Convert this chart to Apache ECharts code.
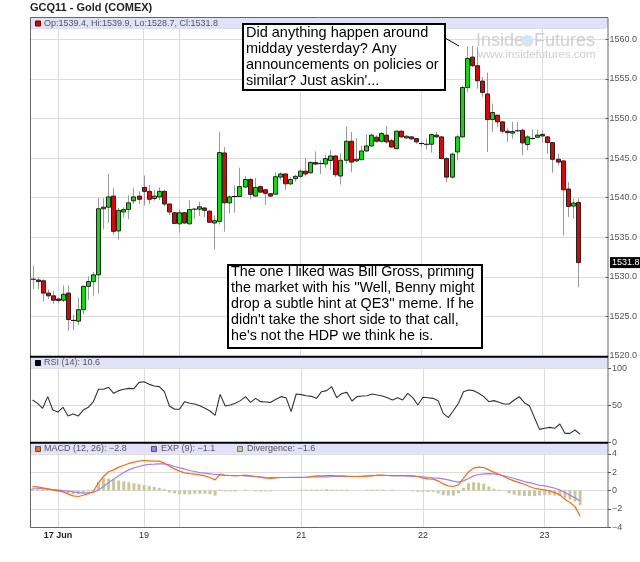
<!DOCTYPE html>
<html>
<head>
<meta charset="UTF-8">
<title>GCQ11 - Gold (COMEX)</title>
<script src="https://cdn.jsdelivr.net/npm/echarts@6/dist/echarts.min.js"></script>
<style>
  html, body { margin: 0; padding: 0; background: #fff; }
  #main { width: 640px; height: 562px; }
</style>
</head>
<body>
<div id="main"></div>
<script type="text/javascript">
// hourly bars
var opens = [1529.7,1529.6,1529.5,1527.95,1527.6,1527.2,1527.05,1527.95,1524.5,1524.4,
  1525.85,1528.8,1529.4,1530.25,1538.6,1538.8,1540.2,1535.8,1538.2,1538.5,
  1539.6,1540.2,1541.3,1540.8,1539.9,1540.1,1540.8,1539.2,1538.1,1536.7,
  1538.1,1536.7,1538.5,1538.55,1538.7,1538.3,1536.8,1537.0,1545.65,1539.35,
  1540.1,1540.15,1541.35,1542.3,1540.2,1541.4,1541.0,1540.5,1540.45,1542.6,
  1543.0,1541.75,1542.4,1542.7,1543.35,1543.15,1544.45,1544.3,1544.26,1544.7,
  1545.27,1542.74,1544.73,1547.13,1544.64,1544.8,1545.9,1546.54,1547.64,1547.13,
  1547.9,1547.2,1546.2,1548.4,1547.55,1547.68,1547.47,1546.84,1546.75,1546.75,
  1547.9,1547.68,1544.94,1542.6,1545.78,1547.68,1553.92,1557.76,1556.67,1554.73,
  1553.1,1549.87,1550.42,1549.58,1548.4,1548.23,1548.45,1548.52,1546.71,1547.47,
  1547.64,1548.0,1547.68,1546.96,1544.85,1544.64,1541.1,1538.94,1539.4];
var closes = [1529.7,1529.4,1527.95,1527.6,1527.05,1527.0,1527.8,1524.6,1524.5,1525.85,
  1528.8,1529.4,1530.25,1538.6,1538.8,1540.1,1535.75,1538.4,1538.5,1539.35,
  1540.1,1539.8,1540.8,1539.8,1540.2,1540.8,1539.2,1538.2,1536.75,1538.1,
  1536.8,1538.5,1538.55,1538.85,1538.4,1536.9,1537.1,1545.7,1539.35,1540.1,
  1540.15,1541.4,1542.3,1540.4,1541.3,1540.7,1540.55,1540.2,1542.65,1543.0,
  1541.75,1542.3,1542.7,1543.35,1543.0,1544.45,1544.25,1544.3,1544.94,1545.27,
  1542.9,1544.73,1547.13,1544.5,1544.85,1545.9,1546.54,1547.9,1547.13,1548.1,
  1547.05,1546.4,1548.4,1547.68,1547.76,1547.43,1547.05,1546.8,1546.7,1547.97,
  1547.68,1544.94,1542.6,1545.5,1547.68,1553.92,1557.6,1556.67,1554.77,1553.3,
  1549.87,1550.76,1549.58,1548.4,1548.23,1548.35,1548.44,1546.92,1547.68,1547.47,
  1547.9,1547.8,1546.96,1544.85,1544.5,1541.0,1538.9,1539.32,1531.8];
var lows = [1528.45,1528.45,1526.9,1527.2,1526.6,1526.7,1526.8,1523.2,1523.3,1523.9,
  1525.3,1527.1,1527.65,1527.9,1536.0,1536.8,1535.3,1534.7,1537.5,1537.3,
  1539.2,1539.2,1539.0,1539.2,1539.6,1539.7,1538.9,1537.8,1536.7,1535.6,
  1536.7,1536.6,1537.3,1537.7,1537.5,1536.8,1533.5,1536.6,1535.7,1538.0,
  1538.1,1540.1,1541.25,1539.8,1540.15,1540.6,1539.1,1540.05,1540.35,1542.2,
  1541.0,1541.55,1542.05,1542.5,1542.7,1543.0,1544.1,1543.0,1543.76,1543.5,
  1542.6,1541.65,1544.3,1543.25,1544.5,1544.75,1545.8,1546.4,1546.96,1546.96,
  1546.84,1546.3,1546.1,1547.6,1547.47,1547.26,1546.84,1546.4,1546.1,1545.7,
  1547.55,1544.85,1541.98,1542.4,1544.7,1547.55,1553.3,1556.5,1553.8,1552.74,
  1545.78,1548.3,1548.95,1548.1,1547.05,1547.47,1548.3,1545.36,1545.99,1547.38,
  1547.55,1546.96,1545.57,1543.16,1544.1,1535.23,1537.55,1537.34,1528.7];
var highs = [1531.4,1529.95,1529.7,1528.4,1528.2,1527.4,1528.9,1528.9,1525.2,1527.4,
  1528.9,1530.05,1530.6,1539.95,1539.95,1543.0,1541.2,1538.7,1538.8,1540.3,
  1541.2,1540.8,1542.8,1541.6,1541.0,1541.3,1541.0,1539.3,1538.2,1538.5,
  1538.2,1539.65,1538.7,1539.5,1538.8,1538.4,1537.75,1548.3,1546.4,1540.3,
  1541.55,1543.8,1542.7,1542.5,1542.5,1541.55,1541.1,1540.6,1543.2,1543.2,
  1543.1,1542.6,1542.9,1543.65,1545.0,1544.6,1545.85,1544.7,1545.44,1546.0,
  1545.35,1545.57,1548.95,1548.3,1547.5,1546.6,1548.0,1548.1,1547.9,1548.3,
  1549.07,1547.47,1548.5,1548.5,1547.9,1547.8,1547.55,1547.1,1547.47,1548.1,
  1548.3,1547.76,1545.15,1545.7,1547.9,1554.1,1559.07,1559.2,1559.07,1555.27,
  1555.8,1551.9,1550.5,1549.66,1548.73,1549.58,1549.58,1548.73,1547.9,1548.6,
  1548.6,1548.5,1547.8,1547.05,1545.53,1544.73,1541.98,1539.87,1539.9];

var rsi = [57.2,52.6,45.9,61.7,43.6,40.9,47.3,35.5,38.2,35.5,
  43.6,47.3,54.9,71.6,71.6,74.3,66.2,69.8,71.6,72.9,
  72.5,81.0,81.9,78.3,76.1,75.2,68.4,49.1,44.6,44.6,
  54.9,52.7,51.8,49.5,45.9,42.3,36.4,64.8,49.1,50.4,
  52.7,56.3,61.7,54.0,59.4,54.9,54.5,54.0,58.1,61.7,
  60.3,41.4,65.3,64.4,63.0,62.1,59.4,68.4,69.8,75.2,
  60.3,66.0,67.5,55.8,61.7,62.6,63.0,65.3,63.9,62.6,
  60.3,57.2,60.3,57.2,66.2,60.3,50.4,60.8,60.3,59.4,
  56.3,39.1,33.3,42.7,52.7,68.4,70.7,69.8,66.2,61.7,
  54.9,56.3,54.0,51.8,51.8,57.2,61.6,53.5,49.5,33.3,
  17.5,18.9,20.2,18.9,24.7,12.1,12.1,16.6,10.6];

var macd = [0.44,0.40,0.29,0.18,0.07,-0.04,-0.15,-0.36,-0.58,-0.65,
  -0.51,-0.33,-0.11,0.87,1.53,2.04,2.25,2.55,2.76,2.95,
  3.09,3.20,3.27,3.24,3.20,3.20,2.98,2.65,2.36,2.11,
  1.93,1.85,1.78,1.71,1.60,1.42,1.16,1.78,1.64,1.64,
  1.60,1.64,1.67,1.60,1.53,1.42,1.35,1.31,1.38,1.42,
  1.42,1.42,1.42,1.42,1.45,1.53,1.60,1.60,1.64,1.64,
  1.60,1.60,1.56,1.53,1.53,1.53,1.56,1.60,1.67,1.67,
  1.64,1.64,1.64,1.64,1.64,1.60,1.53,1.35,1.27,1.24,
  1.05,0.73,0.51,0.44,0.62,1.35,2.04,2.44,2.55,2.51,
  2.25,2.00,1.78,1.53,1.24,1.05,0.87,0.69,0.44,0.25,
  0.15,0.07,-0.04,-0.22,-0.47,-0.95,-1.31,-1.75,-2.8];
var expSignal = [0.25,0.25,0.18,0.15,0.11,0.07,0.0,-0.07,-0.15,-0.22,
  -0.29,-0.25,-0.22,0.07,0.44,0.87,1.24,1.60,1.96,2.25,
  2.47,2.62,2.76,2.84,2.87,2.91,2.91,2.80,2.62,2.47,
  2.33,2.18,2.07,1.96,1.89,1.82,1.75,1.71,1.67,1.64,
  1.64,1.64,1.60,1.56,1.53,1.49,1.45,1.42,1.42,1.42,
  1.42,1.45,1.45,1.45,1.45,1.49,1.49,1.49,1.49,1.53,
  1.53,1.53,1.53,1.53,1.53,1.56,1.60,1.64,1.64,1.64,
  1.64,1.60,1.60,1.60,1.56,1.56,1.53,1.49,1.45,1.38,
  1.35,1.27,1.16,1.02,0.91,1.05,1.31,1.60,1.75,1.82,
  1.85,1.82,1.71,1.60,1.45,1.31,1.16,0.98,0.87,0.73,
  0.58,0.51,0.40,0.25,0.07,-0.22,-0.51,-0.80,-1.1];
var divergence = [0.2,0.15,0.1,0.05,-0.05,-0.1,-0.15,-0.3,-0.4,-0.4,
  -0.25,-0.1,0.1,0.9,1.35,1.3,1.2,1.1,1.0,0.9,
  0.8,0.7,0.6,0.5,0.4,0.3,0.15,-0.2,-0.3,-0.4,
  -0.4,-0.4,-0.35,-0.35,-0.35,-0.4,-0.55,0.1,-0.1,-0.1,
  -0.1,0,0.1,0,-0.1,-0.1,-0.1,-0.1,0,0,
  0,0,0,0.1,0.1,0.1,0.1,0.1,0.15,0.1,
  0.1,0.1,0.1,0,0,0,0.1,0.1,0.1,0.1,
  0,0.1,0,0,0,-0.1,-0.15,-0.15,-0.15,-0.15,
  -0.3,-0.5,-0.55,-0.55,-0.3,0.3,0.8,0.9,0.85,0.75,
  0.45,0.2,0.1,-0.05,-0.3,-0.45,-0.55,-0.6,-0.6,-0.6,
  -0.55,-0.5,-0.5,-0.55,-0.6,-0.8,-1.0,-1.2,-1.6];

// day boundaries (bar index) and their labels
var dayTicks = [5, 22, 29, 53, 77, 101];
var dayNames = ['17 Jun', '19', '', '21', '22', '23'];
var slotCount = 114;   // bars + empty room on the right
var lastClose = 1531.8;

var font = '"Liberation Sans", Arial, sans-serif';
var categories = [];
for (var i = 0; i < slotCount; i++) categories.push(String(i));
var candles = opens.map(function (o, i) {
  return [i, o, closes[i], lows[i], highs[i]];
});

function renderCandle(params, api) {
  var i = api.value(0);
  var o = api.value(1), c = api.value(2), l = api.value(3), h = api.value(4);
  var top = api.coord([i, Math.max(o, c)]);
  var bot = api.coord([i, Math.min(o, c)]);
  var hi = api.coord([i, h]);
  var lo = api.coord([i, l]);
  var x = Math.round(top[0]) + 0.5;
  var kids = [{
    type: 'line',
    shape: { x1: x, y1: hi[1], x2: x, y2: lo[1] },
    style: { stroke: '#999', lineWidth: 1 }
  }];
  if (Math.abs(o - c) < 0.08) {
    kids.push({
      type: 'line',
      shape: { x1: x - 2.5, y1: top[1], x2: x + 2.5, y2: top[1] },
      style: { stroke: '#000', lineWidth: 1 }
    });
  } else {
    kids.push({
      type: 'rect',
      shape: { x: x - 2, y: top[1], width: 4, height: Math.max(bot[1] - top[1], 1.5) },
      style: { fill: c > o ? '#00e400' : '#e80000', stroke: '#222', lineWidth: 1 }
    });
  }
  return { type: 'group', children: kids };
}

function isDayTick(index) {
  return dayTicks.indexOf(index) >= 0;
}

function makeXAxis(gridIndex, withLabels) {
  return {
    type: 'category',
    gridIndex: gridIndex,
    data: categories,
    boundaryGap: true,
    axisLine: { show: false },
    axisTick: { show: false },
    axisLabel: {
      show: withLabels,
      interval: function (index) {
        return isDayTick(index) && dayNames[dayTicks.indexOf(index)] !== '';
      },
      formatter: function (value) {
        var k = dayTicks.indexOf(parseInt(value, 10));
        if (k < 0) return '';
        return k === 0 ? '{b|' + dayNames[k] + '}' : dayNames[k];
      },
      rich: { b: { fontWeight: 'bold', fontSize: 9, fontFamily: font, color: '#222' } },
      fontSize: 9,
      fontFamily: font,
      color: '#333',
      margin: 4
    },
    splitLine: {
      show: true,
      alignWithLabel: true,
      interval: function (index) { return isDayTick(index); },
      lineStyle: { color: '#dcdcdc' }
    }
  };
}

function makeYAxis(gridIndex, min, max, interval, showMax, fmt) {
  return {
    type: 'value',
    gridIndex: gridIndex,
    position: 'right',
    min: min,
    max: max,
    interval: interval,
    axisLine: { show: false },
    axisTick: { show: true, length: 3, lineStyle: { color: '#555' } },
    axisLabel: {
      fontSize: 9, fontFamily: font, color: '#555', margin: 4,
      showMaxLabel: showMax, showMinLabel: true, formatter: fmt
    },
    splitLine: { show: true, lineStyle: { color: '#dcdcdc' } }
  };
}

function legendBox(x, y, color, border) {
  return { type: 'rect', shape: { x: x, y: y, width: 5, height: 5 },
    style: { fill: color, stroke: border, lineWidth: 1 }, z: 15 };
}
function legendText(x, y, text) {
  return { type: 'text', x: x, y: y, z: 15,
    style: { text: text, font: '9px ' + font, fill: '#555', verticalAlign: 'middle' } };
}

var chart = echarts.init(document.getElementById('main'));

var option = {
  animation: false,
  backgroundColor: '#fff',
  grid: [
    { left: 30, top: 28.3, width: 578, height: 327.7 },
    { left: 30, top: 368.3, width: 578, height: 74 },
    { left: 30, top: 453.8, width: 578, height: 73.5 }
  ],
  xAxis: [makeXAxis(0, false), makeXAxis(1, false), makeXAxis(2, true)],
  yAxis: [
    makeYAxis(0, 1520, 1561.4, 5, false, function (v) { return v.toFixed(1); }),
    makeYAxis(1, 0, 100, 50, true, function (v) { return String(v); }),
    makeYAxis(2, -4, 4, 2, true, function (v) { return String(v).replace('-', '\u2212'); })
  ],
  series: [
    {
      type: 'custom',
      name: 'GCQ11',
      xAxisIndex: 0,
      yAxisIndex: 0,
      data: candles,
      encode: { x: 0, y: [1, 2, 3, 4] },
      renderItem: renderCandle
    },
    {
      type: 'line', name: 'RSI', xAxisIndex: 1, yAxisIndex: 1, data: rsi,
      symbol: 'none', lineStyle: { color: '#333', width: 1.1 }
    },
    {
      type: 'bar', name: 'Divergence', xAxisIndex: 2, yAxisIndex: 2, data: divergence,
      barWidth: 3, itemStyle: { color: '#c8c897' }
    },
    {
      type: 'line', name: 'EXP', xAxisIndex: 2, yAxisIndex: 2, data: expSignal,
      symbol: 'none', lineStyle: { color: '#9b80ff', width: 1.2 }
    },
    {
      type: 'line', name: 'MACD', xAxisIndex: 2, yAxisIndex: 2, data: macd,
      symbol: 'none', lineStyle: { color: '#ff6a10', width: 1.2 }
    }
  ],
  graphic: [
    { type: 'text', x: 30, y: 7.5, z: 15,
      style: { text: 'GCQ11 - Gold (COMEX)', font: 'bold 11px ' + font, fill: '#222', verticalAlign: 'middle' } },

    // header bands
    { type: 'rect', shape: { x: 30, y: 17, width: 578, height: 11.3 }, style: { fill: '#e1e1fa' }, z: 10 },
    { type: 'rect', shape: { x: 30, y: 357, width: 578, height: 11.3 }, style: { fill: '#e1e1fa' }, z: 10 },
    { type: 'rect', shape: { x: 30, y: 443, width: 578, height: 10.8 }, style: { fill: '#e1e1fa' }, z: 10 },

    // frame and panel separators
    { type: 'rect', shape: { x: 30.5, y: 17.5, width: 577.5, height: 510 },
      style: { fill: 'none', stroke: '#666', lineWidth: 1 }, z: 20 },
    { type: 'line', shape: { x1: 30, y1: 356.8, x2: 608, y2: 356.8 }, style: { stroke: '#000', lineWidth: 2 }, z: 20 },
    { type: 'line', shape: { x1: 30, y1: 442.8, x2: 608, y2: 442.8 }, style: { stroke: '#000', lineWidth: 2 }, z: 20 },

    // panel headers
    legendBox(35.5, 21, '#e00000', '#600'),
    legendText(44, 23.5, 'Op:1539.4, Hi:1539.9, Lo:1528.7, Cl:1531.8'),
    legendBox(35.5, 360.5, '#000', '#000'),
    legendText(44, 363, 'RSI (14): 10.6'),
    legendBox(35.5, 446.5, '#ff6a10', '#555'),
    legendText(44, 449, 'MACD (12, 26): \u22122.8'),
    legendBox(151.5, 446.5, '#9b80ff', '#555'),
    legendText(161, 449, 'EXP (9): \u22121.1'),
    legendBox(237.5, 446.5, '#c8c897', '#777'),
    legendText(247, 449, 'Divergence: \u22121.6'),

    // watermark
    { type: 'text', x: 476, y: 41, z: 1,
      style: { text: 'Inside', font: '18px ' + font, fill: '#cfcfcf', verticalAlign: 'middle' } },
    { type: 'circle', shape: { cx: 527.5, cy: 41, r: 6 }, style: { fill: '#d4e6f4' }, z: 1 },
    { type: 'text', x: 534, y: 41, z: 1,
      style: { text: 'Futures', font: '18px ' + font, fill: '#cfcfcf', verticalAlign: 'middle' } },
    { type: 'text', x: 478, y: 54.5, z: 1,
      style: { text: 'www.insidefutures.com', font: '11.5px ' + font, fill: '#cfcfcf', verticalAlign: 'middle' } },

    // annotations
    { type: 'line', shape: { x1: 445, y1: 38, x2: 459, y2: 46 }, style: { stroke: '#000', lineWidth: 1 }, z: 30 },
    { type: 'rect', shape: { x: 243, y: 24, width: 202, height: 66 },
      style: { fill: '#fff', stroke: '#000', lineWidth: 2 }, z: 30 },
    { type: 'text', x: 246, y: 25, z: 31,
      style: {
        text: "Did anything happen around\nmidday yesterday? Any\nannouncements on policies or\nsimilar? Just askin'...",
        font: '14.5px ' + font, fill: '#000', lineHeight: 16, verticalAlign: 'top'
      } },
    { type: 'rect', shape: { x: 228, y: 265, width: 254, height: 83 },
      style: { fill: '#fff', stroke: '#000', lineWidth: 2 }, z: 30 },
    { type: 'text', x: 231, y: 264, z: 31,
      style: {
        text: "The one I liked was Bill Gross, priming\nthe market with his ''Well, Benny might\ndrop a subtle hint at QE3'' meme. If he\ndidn't take the short side to that call,\nhe's not the HDP we think he is.",
        font: '14.3px ' + font, fill: '#000', lineHeight: 16, verticalAlign: 'top'
      } }
  ]
};

chart.setOption(option, true);

// last close tag on the price axis, placed through the axis scale
var lastY = chart.convertToPixel({ yAxisIndex: 0 }, lastClose);
option.graphic.push({
  type: 'text', x: 610, y: lastY, z: 25,
  style: {
    text: lastClose.toFixed(1), font: '9px ' + font, fill: '#fff',
    backgroundColor: '#000', padding: [1, 2, 1, 2], verticalAlign: 'middle'
  }
});
chart.setOption(option, true);
</script>
</body>
</html>
